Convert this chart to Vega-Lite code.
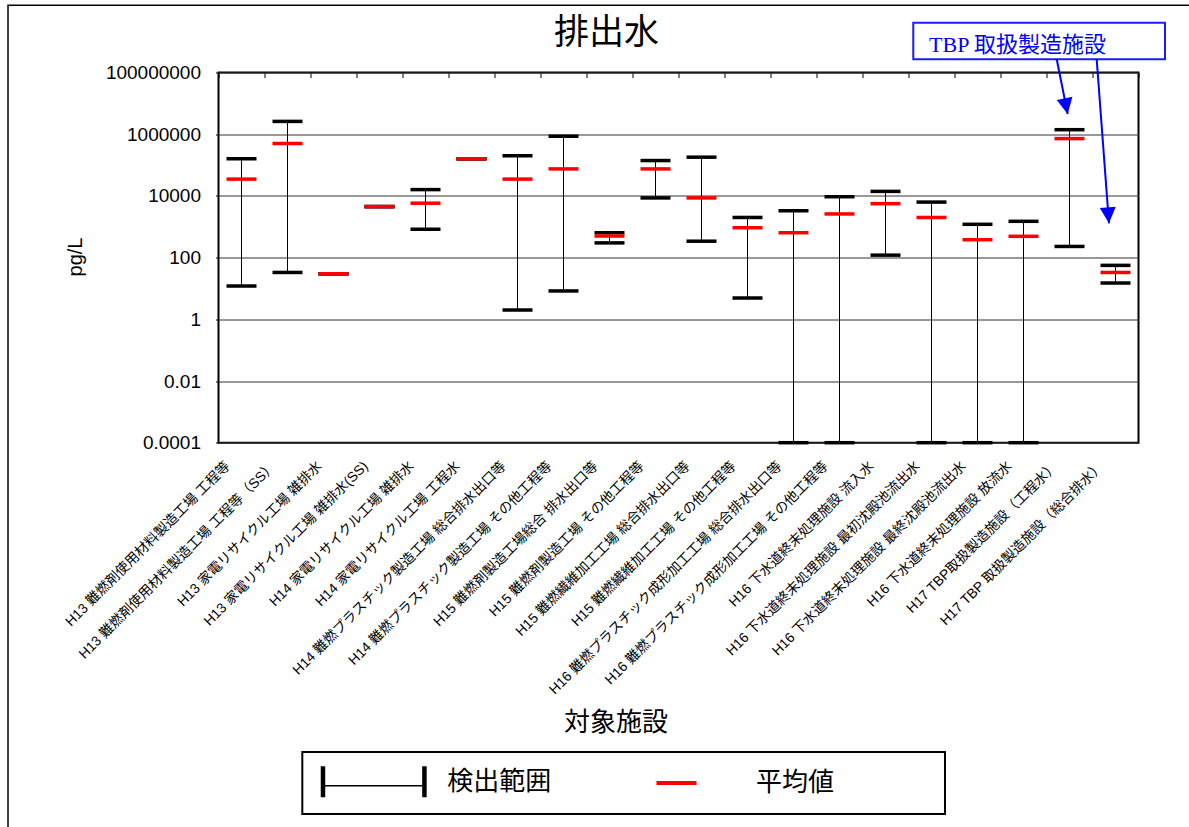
{
  "$schema": "https://vega.github.io/schema/vega-lite/v6.json",
  "width": 920,
  "height": 370.2,
  "autosize": {"type": "none"},
  "padding": {"left": 218.5, "top": 72.5, "right": 50.5, "bottom": 384.3},
  "background": "white",
  "config": {
    "view": {"stroke": "black", "strokeWidth": 2}
  },
  "datasets": {
    "facilities": [
      {"facility": "H13 難燃剤使用材料製造工場 工程等", "min": 12, "mean": 35000, "max": 160000},
      {"facility": "H13 難燃剤使用材料製造工場 工程等（SS）", "min": 33, "mean": 500000, "max": 2600000},
      {"facility": "H13 家電リサイクル工場 雑排水", "min": 30, "mean": 30, "max": 30},
      {"facility": "H13 家電リサイクル工場 雑排水(SS)", "min": 4500, "mean": 4500, "max": 4500},
      {"facility": "H14 家電リサイクル工場 雑排水", "min": 830, "mean": 5800, "max": 16000},
      {"facility": "H14 家電リサイクル工場 工程水", "min": 160000, "mean": 160000, "max": 160000},
      {"facility": "H14 難燃プラスチック製造工場 総合排水出口等", "min": 2.0, "mean": 35000, "max": 200000},
      {"facility": "H14 難燃プラスチック製造工場 その他工程等", "min": 8.3, "mean": 75000, "max": 860000},
      {"facility": "H15 難燃剤製造工場総合 排水出口等", "min": 300, "mean": 500, "max": 640},
      {"facility": "H15 難燃剤製造工場 その他工程等", "min": 8600, "mean": 75000, "max": 140000},
      {"facility": "H15 難燃繊維加工工場 総合排水出口等", "min": 340, "mean": 8600, "max": 180000},
      {"facility": "H15 難燃繊維加工工場 その他工程等", "min": 4.9, "mean": 930, "max": 2000},
      {"facility": "H16 難燃プラスチック成形加工工場 総合排水出口等", "min": 0.0001, "mean": 640, "max": 3300},
      {"facility": "H16 難燃プラスチック成形加工工場 その他工程等", "min": 0.0001, "mean": 2600, "max": 9400},
      {"facility": "H16 下水道終末処理施設 流入水", "min": 120, "mean": 5600, "max": 14000},
      {"facility": "H16 下水道終末処理施設 最初沈殿池流出水", "min": 0.0001, "mean": 2000, "max": 6300},
      {"facility": "H16 下水道終末処理施設 最終沈殿池流出水", "min": 0.0001, "mean": 380, "max": 1200},
      {"facility": "H16 下水道終末処理施設 放流水", "min": 0.0001, "mean": 490, "max": 1500},
      {"facility": "H17 TBP取扱製造施設（工程水）", "min": 230, "mean": 720000, "max": 1400000},
      {"facility": "H17 TBP 取扱製造施設（総合排水）", "min": 15, "mean": 33, "max": 56}
    ],
    "heading": [
      {"text": "排出水", "x": 8.935, "y": 1840000000}
    ],
    "callout": [
      {"label": "TBP 取扱製造施設", "left": 15.604, "right": 21.076, "top": 4100000000, "bottom": 268000000, "textX": 15.946, "textY": 800000000}
    ],
    "arrows": [
      {"target": "工程水", "fromX": 18.722, "fromY": 268000000, "toX": 18.961, "toY": 4500000},
      {"target": "総合排水", "fromX": 19.591, "fromY": 268000000, "toX": 19.858, "toY": 1290}
    ],
    "boxes": [
      {"box": "page", "x": -4.076, "x2": 21.837, "y": 15000000000, "y2": 1e-17, "w": 1.5},
      {"box": "legend", "x": 2.322, "x2": 16.293, "y": 9.4e-15, "y2": 9.2e-17, "w": 2}
    ]
  },
  "layer": [
    {
      "data": {"name": "facilities"},
      "encoding": {
        "x": {
          "field": "facility",
          "type": "nominal",
          "sort": null,
          "scale": {"paddingInner": 0, "paddingOuter": 0},
          "axis": {
            "title": "対象施設",
            "titleFont": "Noto Sans CJK JP",
            "titleFontSize": 26,
            "titleFontWeight": "normal",
            "titleColor": "black",
            "titleX": 397,
            "titleY": 279.3,
            "titleBaseline": "middle",
            "titleAlign": "center",
            "labelAngle": -45,
            "labelAlign": "right",
            "labelBaseline": "middle",
            "labelFont": "Liberation Sans, Noto Sans CJK JP",
            "labelFontSize": 13.8,
            "labelColor": "black",
            "labelLimit": 400,
            "labelOffset": -14,
            "labelPadding": 21,
            "labelOverlap": false,
            "domain": false,
            "ticks": false,
            "tickSize": 0,
            "tickBand": "extent",
            "grid": true,
            "gridColor": "black",
            "gridWidth": 1,
            "gridDash": [5, 600]
          }
        }
      },
      "layer": [
        {
          "mark": {"type": "rule", "strokeWidth": 1},
          "encoding": {
            "y": {
              "field": "min",
              "type": "quantitative",
              "scale": {"type": "log", "domain": [0.0001, 100000000], "nice": false},
              "axis": {
                "title": "pg/L",
                "titleFont": "Liberation Sans",
                "titleFontSize": 20,
                "titleFontWeight": "normal",
                "titleColor": "black",
                "titleX": -143.5,
                "titleY": 184,
                "titleAlign": "center",
                "titleBaseline": "middle",
                "values": [0.0001, 0.01, 1, 100, 10000, 1000000, 100000000],
                "labelExpr": "datum.value >= 1 ? format(datum.value, 'd') : format(datum.value, '.4~f')",
                "labelFont": "Liberation Sans",
                "labelFontSize": 19,
                "labelColor": "black",
                "labelPadding": 15,
                "tickSize": 3,
                "tickColor": "black",
                "domain": false,
                "grid": true,
                "gridColor": "#333333",
                "gridWidth": 1
              }
            },
            "y2": {"field": "max"},
            "color": {
              "datum": "検出範囲",
              "type": "nominal",
              "scale": {"domain": ["検出範囲", "平均値"], "range": ["black", "#ff0000"]},
              "legend": {
                "orient": "none",
                "legendX": 86.2,
                "legendY": 677,
                "direction": "horizontal",
                "title": null,
                "padding": 16,
                "symbolSize": 1024,
                "symbolOffset": 37,
                "symbolStrokeWidth": 0,
                "labelOffset": 57.5,
                "labelFont": "Noto Sans CJK JP",
                "labelFontSize": 26,
                "labelColor": "black",
                "labelLimit": 400,
                "columnPadding": 77.8,
                "encode": {
                  "symbols": {
                    "update": {
                      "shape": {"signal": "datum.value == '検出範囲' ? 'M-3.31,-0.97H-3.03V0.97H-3.31Z M-3.03,0.2H3.03V0.3H-3.03Z M3.03,-0.97H3.31V0.97H3.03Z' : 'M-1.625,-0.125H0.875V0.125H-1.625Z'"},
                      "fill": {"signal": "datum.value == '検出範囲' ? 'black' : '#ff0000'"},
                      "stroke": {"value": "transparent"},
                      "opacity": {"value": 1},
                      "fillOpacity": {"value": 1},
                      "size": {"value": 1024}
                    }
                  }
                }
              }
            }
          }
        },
        {
          "mark": {"type": "tick", "size": 30, "thickness": 3.5, "opacity": 1},
          "encoding": {
            "y": {"field": "min", "type": "quantitative", "scale": {"type": "log", "domain": [0.0001, 100000000], "nice": false}},
            "color": {"datum": "検出範囲", "type": "nominal"}
          }
        },
        {
          "mark": {"type": "tick", "size": 30, "thickness": 3.5, "opacity": 1},
          "encoding": {
            "y": {"field": "max", "type": "quantitative", "scale": {"type": "log", "domain": [0.0001, 100000000], "nice": false}},
            "color": {"datum": "検出範囲", "type": "nominal"}
          }
        },
        {
          "mark": {"type": "tick", "size": 30, "thickness": 3.5, "opacity": 1},
          "encoding": {
            "y": {"field": "mean", "type": "quantitative", "scale": {"type": "log", "domain": [0.0001, 100000000], "nice": false}},
            "color": {"datum": "平均値", "type": "nominal"}
          }
        }
      ]
    },
    {
      "layer": [
        {
          "data": {"name": "boxes"},
          "mark": {"type": "rect", "fill": "transparent", "stroke": "black"},
          "encoding": {
            "x": {"field": "x", "type": "quantitative", "scale": {"domain": [0.5, 20.5], "nice": false, "zero": false}, "axis": null},
            "x2": {"field": "x2"},
            "y": {"field": "y", "type": "quantitative", "scale": {"type": "log", "domain": [0.0001, 100000000], "nice": false}, "axis": null},
            "y2": {"field": "y2"},
            "strokeWidth": {"field": "w", "type": "quantitative", "scale": null}
          }
        },
        {
          "data": {"name": "heading"},
          "mark": {"type": "text", "align": "center", "baseline": "middle", "font": "Noto Sans CJK JP", "fontSize": 35, "color": "black"},
          "encoding": {
            "x": {"field": "x", "type": "quantitative", "scale": {"domain": [0.5, 20.5], "nice": false, "zero": false}, "axis": null},
            "y": {"field": "y", "type": "quantitative", "scale": {"type": "log", "domain": [0.0001, 100000000], "nice": false}, "axis": null},
            "text": {"field": "text"}
          }
        },
        {
          "data": {"name": "callout"},
          "mark": {"type": "rect", "fill": "white", "stroke": "#1a1aff", "strokeWidth": 2},
          "encoding": {
            "x": {"field": "left", "type": "quantitative", "scale": {"domain": [0.5, 20.5], "nice": false, "zero": false}, "axis": null},
            "x2": {"field": "right"},
            "y": {"field": "top", "type": "quantitative", "scale": {"type": "log", "domain": [0.0001, 100000000], "nice": false}, "axis": null},
            "y2": {"field": "bottom"}
          }
        },
        {
          "data": {"name": "callout"},
          "mark": {"type": "text", "align": "left", "baseline": "middle", "font": "Liberation Serif, Noto Sans CJK JP", "fontSize": 22, "color": "#0000ff"},
          "encoding": {
            "x": {"field": "textX", "type": "quantitative", "scale": {"domain": [0.5, 20.5], "nice": false, "zero": false}, "axis": null},
            "y": {"field": "textY", "type": "quantitative", "scale": {"type": "log", "domain": [0.0001, 100000000], "nice": false}, "axis": null},
            "text": {"field": "label"}
          }
        },
        {
          "data": {"name": "arrows"},
          "mark": {"type": "rule", "stroke": "#0000ff", "strokeWidth": 2},
          "encoding": {
            "x": {"field": "fromX", "type": "quantitative", "scale": {"domain": [0.5, 20.5], "nice": false, "zero": false}, "axis": null},
            "x2": {"field": "toX"},
            "y": {"field": "fromY", "type": "quantitative", "scale": {"type": "log", "domain": [0.0001, 100000000], "nice": false}, "axis": null},
            "y2": {"field": "toY"}
          }
        },
        {
          "data": {"name": "arrows"},
          "transform": [{"filter": "datum.target == '工程水'"}],
          "mark": {"type": "point", "shape": "M0,0L-1,-2L1,-2Z", "size": 256, "filled": true, "color": "#0000ff", "opacity": 1, "angle": 348.7},
          "encoding": {
            "x": {"field": "toX", "type": "quantitative", "scale": {"domain": [0.5, 20.5], "nice": false, "zero": false}, "axis": null},
            "y": {"field": "toY", "type": "quantitative", "scale": {"type": "log", "domain": [0.0001, 100000000], "nice": false}, "axis": null}
          }
        },
        {
          "data": {"name": "arrows"},
          "transform": [{"filter": "datum.target == '総合排水'"}],
          "mark": {"type": "point", "shape": "M0,0L-1,-2L1,-2Z", "size": 256, "filled": true, "color": "#0000ff", "opacity": 1, "angle": 355.7},
          "encoding": {
            "x": {"field": "toX", "type": "quantitative", "scale": {"domain": [0.5, 20.5], "nice": false, "zero": false}, "axis": null},
            "y": {"field": "toY", "type": "quantitative", "scale": {"type": "log", "domain": [0.0001, 100000000], "nice": false}, "axis": null}
          }
        }
      ]
    }
  ],
  "resolve": {"scale": {"x": "independent"}, "axis": {"x": "independent", "y": "independent"}}
}
